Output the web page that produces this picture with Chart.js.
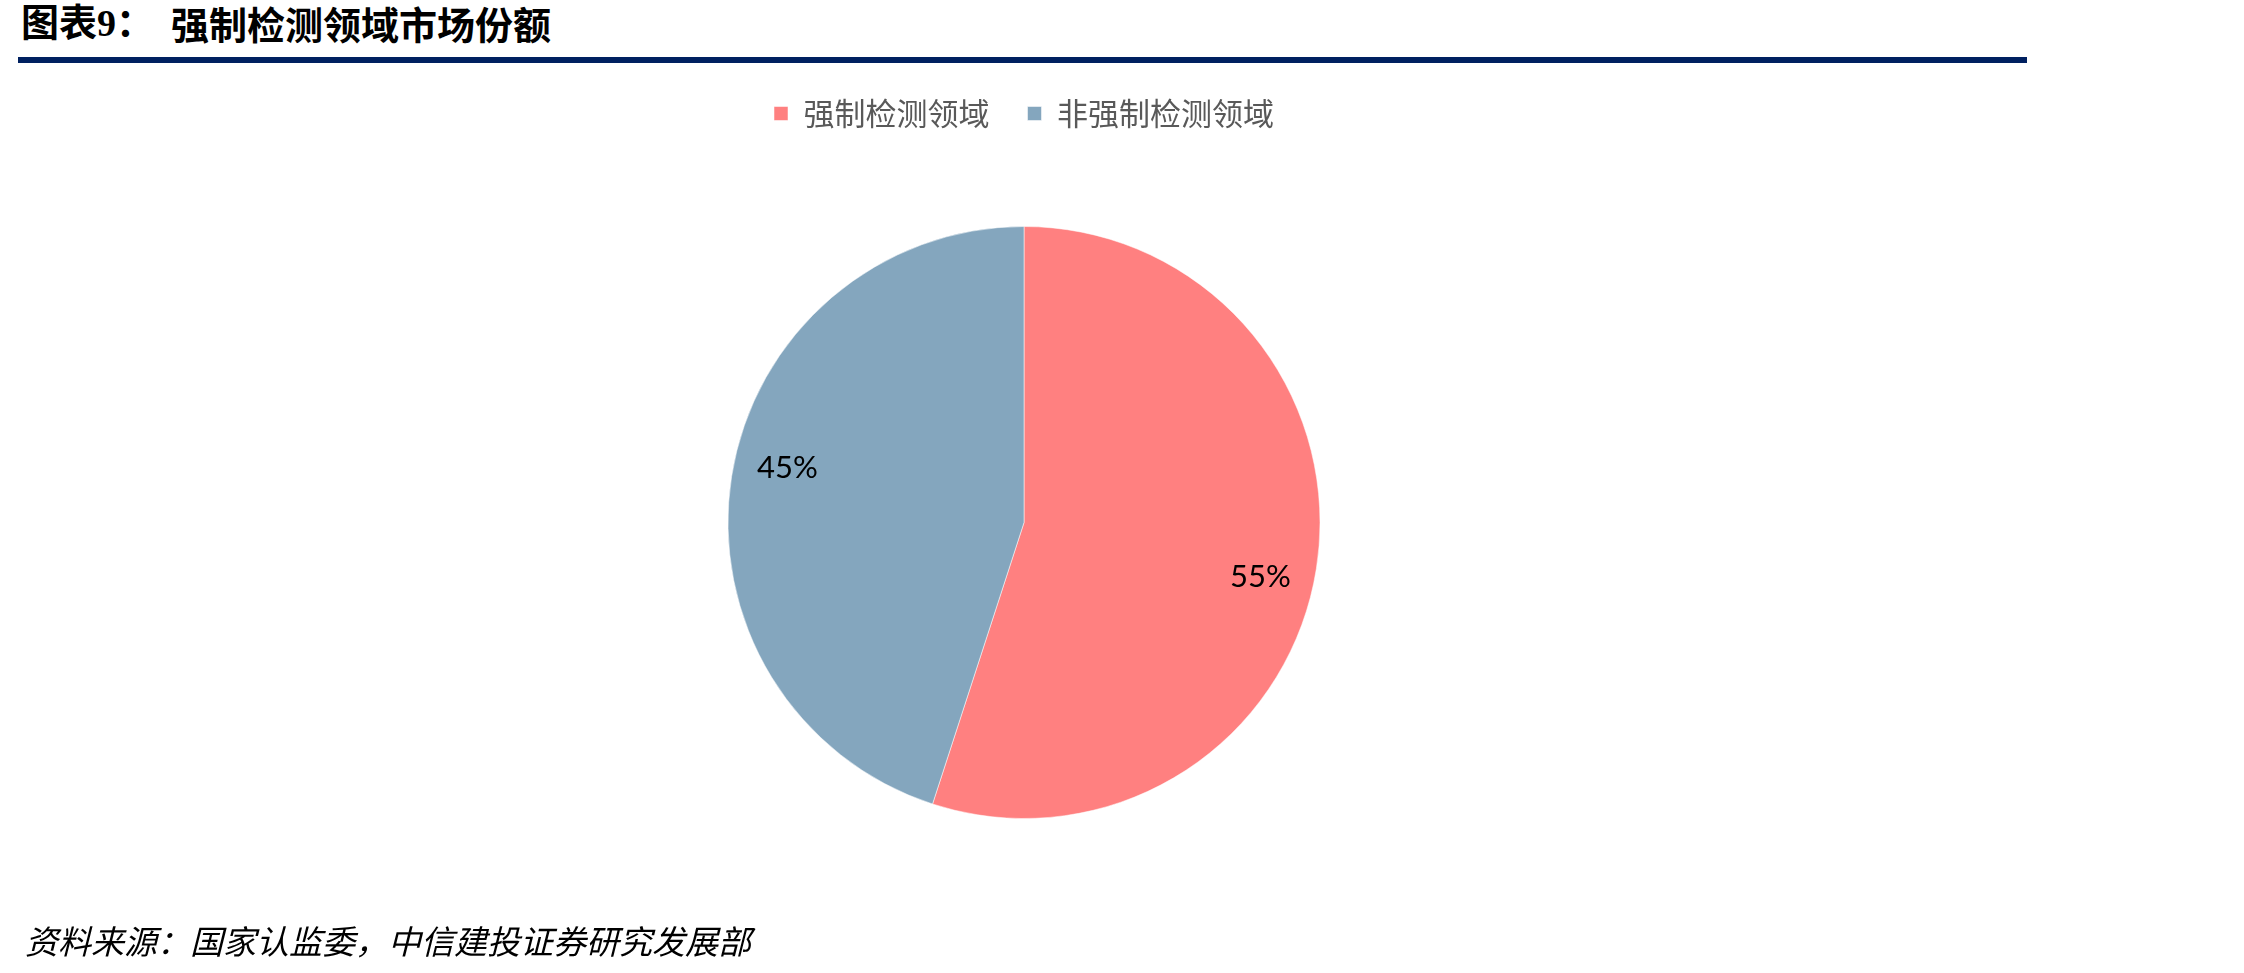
<!DOCTYPE html>
<html>
<head>
<meta charset="utf-8">
<script src="https://cdn.jsdelivr.net/npm/chart.js@4"></script>
<style>
  body { margin: 0; background: #fff; width: 2244px; height: 973px; overflow: hidden; position: relative; }
  #title { position: absolute; left: 21px; top: 1px; font: bold 38px "Liberation Serif", "Noto Sans CJK SC"; color: #000; white-space: pre; line-height: 44px; }
  #title span { position: absolute; left: 150px; font-family: "Noto Sans CJK SC"; }
  #rule { position: absolute; left: 18px; top: 57px; width: 2009px; height: 6px; background: #002060; }
  #source { position: absolute; left: 25px; top: 918px; font: italic 33px "Noto Sans CJK SC"; color: #000; line-height: 44px; white-space: nowrap; }
  #wrap { position: absolute; left: -3px; top: 0; width: 2046px; height: 973px; }
</style>
</head>
<body>
<div id="title">图表9：<span>强制检测领域市场份额</span></div>
<div id="rule"></div>
<div id="wrap"><canvas id="myChart"></canvas></div>
<div id="source">资料来源：国家认监委，中信建投证券研究发展部</div>
<script>
const categories = ['强制检测领域', '非强制检测领域']
const shares = [55, 45]
const colors = ['#FF8080', '#84A6BE']

const ctx = document.getElementById('myChart');

// percent labels placed from each arc's own geometry
const sliceLabels = {
    id: 'sliceLabels',
    afterDatasetsDraw(chart) {
        const c = chart.ctx
        const meta = chart.getDatasetMeta(0)
        c.save()
        c.font = '31px Lato'
        c.fillStyle = '#000'
        c.textAlign = 'center'
        c.textBaseline = 'middle'
        meta.data.forEach((arc, i) => {
            const p = arc.getProps(['x', 'y', 'startAngle', 'endAngle', 'outerRadius'], true)
            const mid = (p.startAngle + p.endAngle) / 2 + 0.07
            const r = p.outerRadius * 0.82
            c.fillText(shares[i] + '%', p.x + Math.cos(mid) * r, p.y + Math.sin(mid) * r)
        })
        c.restore()
    }
}

new Chart(ctx, {
    type: 'pie',
    data: {
        labels: categories,
        datasets: [{
            data: shares,
            backgroundColor: colors,
            borderColor: 'rgba(255,255,255,0.5)',
            borderWidth: 1,
            radius: 296
        }]
    },
    options: {
        responsive: true,
        maintainAspectRatio: false,
        animation: false,
        layout: {
            padding: { top: 60, bottom: 67, left: 8 }
        },
        plugins: {
            legend: {
                position: 'top',
                labels: {
                    boxWidth: 14,
                    boxHeight: 14,
                    padding: 38,
                    color: '#595959',
                    font: { family: '"Noto Sans CJK SC"', size: 31 }
                }
            },
            tooltip: { enabled: false }
        }
    },
    plugins: [sliceLabels]
});
</script>
</body>
</html>
